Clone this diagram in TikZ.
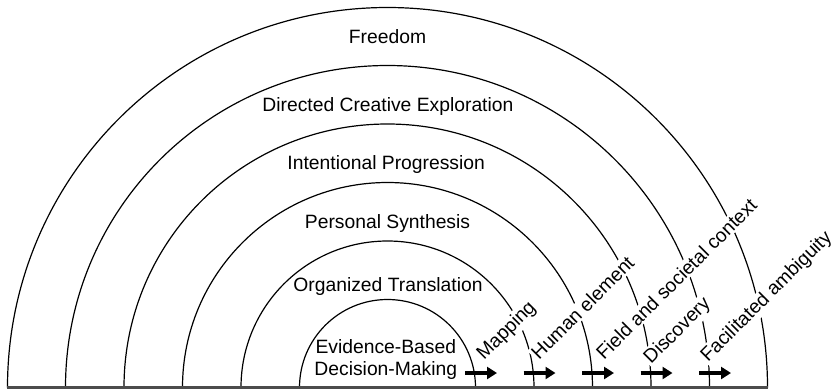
\documentclass[tikz,border=0pt]{standalone}
\usepackage{fontspec}
\setmainfont{Liberation Sans}
\usetikzlibrary{arrows.meta}

\begin{document}
\begin{tikzpicture}[x=1pt,y=1pt]
\tikzstyle{stage} = [font=\fontsize{19.3}{21.7}\selectfont, align=center, inner sep=0pt]
\tikzstyle{aspect} = [font=\fontsize{19.3}{21.7}\selectfont, rotate=45, anchor=base west,
    fill=white, inner sep=1.5pt]
\tikzstyle{ring} = [draw, line width=1.2pt]
\tikzstyle{flow} = [draw, line width=4pt, -{Triangle[length=10pt,width=12pt]}]

\useasboundingbox (0,0) rectangle (840,-391);
\coordinate (O) at (387.5,-387.5);
%
\foreach \r in {88,146.5,205,263.5,322,380}
  \draw [ring] ([xshift=\r pt]O) arc (0:180:\r pt);
\coordinate (groundleft) at (7,-387.5);
\coordinate (groundright) at (768.2,-387.5);
\draw [line width=2.5pt, black!70] (groundleft) -- (groundright);
%
\node [stage, anchor=base] (s6) at (387.5,-43.3) {Freedom};
\node [stage, anchor=base] (s5) at (387.9,-111.7) {Directed Creative Exploration};
\node [stage, anchor=base] (s4) at (386.2,-169.3) {Intentional Progression};
\node [stage, anchor=base] (s3) at (387.5,-228.3) {Personal Synthesis};
\node [stage, anchor=base] (s2) at (388,-291.7) {Organized Translation};
\node [stage, anchor=base] (s1) at (385.8,-375) {Evidence-Based\\Decision-Making};
%
\node [aspect] (a1) at (483,-362) {Mapping};
\node [aspect] (a2) at (538,-362) {Human element};
\node [aspect] (a3) at (603,-362) {Field and societal context};
\node [aspect] (a4) at (650,-366) {Discovery};
\node [aspect] (a5) at (707,-364) {Facilitated ambiguity};
%
\foreach \e [count=\i] in {475,533.5,592,650.5,709}{
  \coordinate (f\i) at (\e-10,-373);
  \coordinate (t\i) at (\e+22,-373);
  \path [flow] (f\i) -- (t\i);
}

\end{tikzpicture}
\end{document}
